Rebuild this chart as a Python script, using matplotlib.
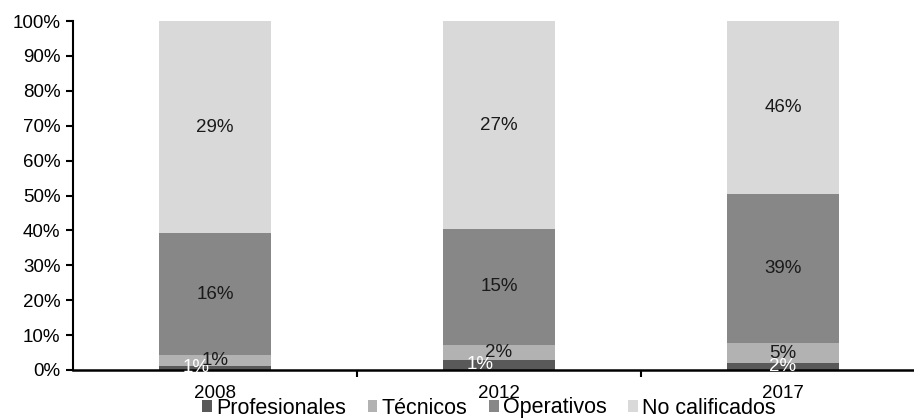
import matplotlib
matplotlib.use("Agg")
import matplotlib.pyplot as plt
import numpy as np

plt.rcParams['font.family'] = ['Liberation Sans', 'DejaVu Sans']

# raw shares per category (labels show these), bars are normalised to 100%
years = ["2008", "2012", "2017"]
series = ["Profesionales", "Técnicos", "Operativos", "No calificados"]
profesionales = [0.6, 1.3, 1.8]
tecnicos = [1.4, 2.0, 5.2]
operativos = [16.4, 15.0, 39.3]
no_calificados = [28.6, 27.0, 45.7]

colors = ["#595959", "#b2b2b2", "#878787", "#d9d9d9"]
label_colors = ["white", "#1a1a1a", "#1a1a1a", "#1a1a1a"]
# small horizontal nudges for labels that would collide (profesionales)
label_dx = [[-0.065, -0.065, 0], [0, 0, 0], [0, 0, 0], [0, 0, 0]]

data = np.array([profesionales, tecnicos, operativos, no_calificados])
shares = data / data.sum(axis=0)

fig = plt.figure(figsize=(9.14, 4.18), dpi=100)
ax = fig.add_axes([73 / 914, 1 - 370 / 418, 852 / 914, 349 / 418])

x = np.arange(len(years))
bottom = np.zeros(len(years))
for i, name in enumerate(series):
    ax.bar(x, shares[i], 0.395, bottom=bottom, color=colors[i], label=name)
    for j in range(len(years)):
        ax.text(x[j] + label_dx[i][j], bottom[j] + shares[i][j] / 2,
                f"{data[i][j]:.0f}%", ha="center", va="center",
                fontsize=13.5, color=label_colors[i])
    bottom += shares[i]

ax.set_xlim(-0.5, 2.5)
ax.set_ylim(0, 1)
ax.set_yticks(np.arange(0, 1.01, 0.1))
ax.set_yticklabels([f"{v}%" for v in range(0, 101, 10)], fontsize=13.5)

ax.set_xticks([0.5, 1.5])
ax.set_xticklabels([])
ax.set_xticks(x, minor=True)
ax.set_xticklabels(years, minor=True, fontsize=13.5)
ax.tick_params(axis="x", which="minor", length=0, pad=11)
ax.tick_params(axis="x", which="major", length=5, width=1.5, direction="out")
ax.tick_params(axis="y", length=5, width=1.5, direction="out", pad=4)

for side in ["top", "right"]:
    ax.spines[side].set_visible(False)
ax.spines["left"].set_linewidth(1.5)
ax.spines["bottom"].set_linewidth(1.8)

fig.legend(loc="center", bbox_to_anchor=(489 / 914, 1 - 408 / 418), ncol=4,
           frameon=False, fontsize=15.5, handlelength=0.45, handleheight=0.45,
           handletextpad=0.2, columnspacing=1.0, borderpad=0)

fig.savefig("out.png", dpi=100)
